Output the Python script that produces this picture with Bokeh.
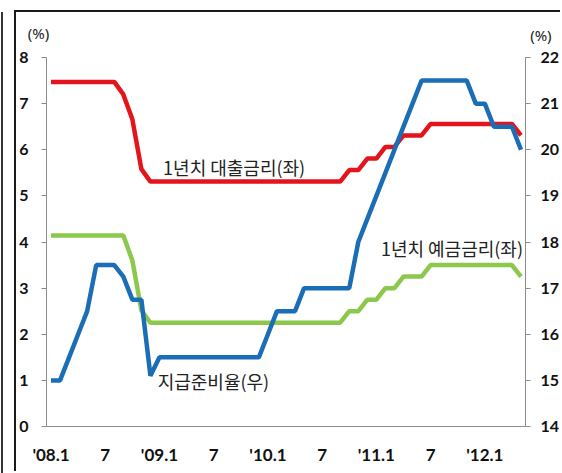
from bokeh.plotting import figure
from bokeh.models import Range1d, LinearAxis, FixedTicker, Label
from bokeh.embed import file_html
from bokeh.resources import INLINE

# Monthly data, 2008.1 - 2012.5 (53 months)
month_index = list(range(53))
tick_positions = [0, 6, 12, 18, 24, 30, 36, 42, 48]
tick_labels = ["'08.1", "7", "'09.1", "7", "'10.1", "7", "'11.1", "7", "'12.1"]

# 1-year lending rate (left axis, %)
lending = [7.47, 7.47, 7.47, 7.47, 7.47, 7.47, 7.47, 7.47, 7.20, 6.66, 5.58, 5.31,
           5.31, 5.31, 5.31, 5.31, 5.31, 5.31, 5.31, 5.31, 5.31, 5.31, 5.31, 5.31,
           5.31, 5.31, 5.31, 5.31, 5.31, 5.31, 5.31, 5.31, 5.31, 5.56, 5.56, 5.81,
           5.81, 6.06, 6.06, 6.31, 6.31, 6.31, 6.56, 6.56, 6.56, 6.56, 6.56, 6.56,
           6.56, 6.56, 6.56, 6.56, 6.31]
# 1-year deposit rate (left axis, %)
deposit = [4.14, 4.14, 4.14, 4.14, 4.14, 4.14, 4.14, 4.14, 4.14, 3.60, 2.52, 2.25,
           2.25, 2.25, 2.25, 2.25, 2.25, 2.25, 2.25, 2.25, 2.25, 2.25, 2.25, 2.25,
           2.25, 2.25, 2.25, 2.25, 2.25, 2.25, 2.25, 2.25, 2.25, 2.50, 2.50, 2.75,
           2.75, 3.00, 3.00, 3.25, 3.25, 3.25, 3.50, 3.50, 3.50, 3.50, 3.50, 3.50,
           3.50, 3.50, 3.50, 3.50, 3.25]
# Reserve requirement ratio (right axis, %)
reserve = [15.0, 15.0, 15.5, 16.0, 16.5, 17.5, 17.5, 17.5, 17.25, 16.75, 16.75, 15.1,
           15.5, 15.5, 15.5, 15.5, 15.5, 15.5, 15.5, 15.5, 15.5, 15.5, 15.5, 15.5,
           16.0, 16.5, 16.5, 16.5, 17.0, 17.0, 17.0, 17.0, 17.0, 17.0, 18.0, 18.5,
           19.0, 19.5, 20.0, 20.5, 21.0, 21.5, 21.5, 21.5, 21.5, 21.5, 21.5, 21.0,
           21.0, 20.5, 20.5, 20.5, 20.0]

RED = "#E3141B"
BLUE = "#1B6DB5"
GREEN = "#8CC84B"
AXIS = "#8C8C8C"
TICK_FONT = "Lato"
KFONT = "Noto Sans CJK KR"

p = figure(width=546, height=461, output_backend="svg", toolbar_location=None,
           x_range=Range1d(-0.5, 52.5), y_range=Range1d(0, 8),
           min_border_left=29, min_border_right=35, min_border_top=45, min_border_bottom=47)
p.styles = {"margin-top": "12px", "margin-left": "16px",
            "box-shadow": "-2px -2px 0 0 #1a1a1a, -13px 0 0 0 #ffffff, -15px 0 0 0 #333333"}
p.extra_y_ranges = {"r": Range1d(14, 22)}
p.outline_line_color = None
p.grid.visible = False
p.background_fill_color = "white"
p.border_fill_color = "white"

p.line(month_index, lending, line_color=RED, line_width=4.5)
p.line(month_index, deposit, line_color=GREEN, line_width=4.5)
p.line(month_index, reserve, line_color=BLUE, line_width=4.5, y_range_name="r")

# x axis
xa = p.xaxis[0]
xa.ticker = FixedTicker(ticks=tick_positions)
xa.major_label_overrides = {pos: lab for pos, lab in zip(tick_positions, tick_labels)}
xa.major_tick_out = 0
xa.major_tick_in = 0
xa.minor_tick_line_color = None
xa.axis_line_color = AXIS
xa.major_label_standoff = 17
xa.major_label_text_font = TICK_FONT
xa.major_label_text_font_style = "bold"
xa.major_label_text_font_size = "17px"
xa.major_label_text_color = "#111111"

# left axis
ya = p.yaxis[0]
ya.ticker = FixedTicker(ticks=[0, 1, 2, 3, 4, 5, 6, 7, 8])
ya.major_tick_out = 5
ya.major_tick_in = 0
ya.minor_tick_line_color = None
ya.axis_line_color = AXIS
ya.major_tick_line_color = AXIS
ya.major_label_standoff = 13
ya.major_label_text_font = TICK_FONT
ya.major_label_text_font_style = "bold"
ya.major_label_text_font_size = "16px"
ya.major_label_text_color = "#111111"

# right axis
ra = LinearAxis(y_range_name="r", ticker=FixedTicker(ticks=[14, 15, 16, 17, 18, 19, 20, 21, 22]))
ra.major_tick_out = 5
ra.major_tick_in = 0
ra.minor_tick_line_color = None
ra.axis_line_color = AXIS
ra.major_tick_line_color = AXIS
ra.major_label_standoff = 10
ra.major_label_text_font = TICK_FONT
ra.major_label_text_font_style = "bold"
ra.major_label_text_font_size = "16px"
ra.major_label_text_color = "#111111"
p.add_layout(ra, "right")

# unit labels (top panel; the second one sits one panel row higher, so it is lowered)
p.add_layout(Label(x=-1.38, y=25, y_units="screen", text="(%)", text_align="center",
                   text_baseline="middle", text_font="Noto Sans", text_font_size="15px",
                   text_color="#222222"), "above")
p.add_layout(Label(x=54.2, y=3, y_units="screen", text="(%)", text_align="center",
                   text_baseline="middle", text_font="Noto Sans", text_font_size="15px",
                   text_color="#222222"), "above")

# series annotations
p.add_layout(Label(x=12.4, y=5.62, text="1년치 대출금리(좌)", text_align="left",
                   text_baseline="middle", text_font=KFONT, text_font_size="18px",
                   text_color="#222222"))
p.add_layout(Label(x=36.5, y=3.87, text="1년치 예금금리(좌)", text_align="left",
                   text_baseline="middle", text_font=KFONT, text_font_size="18px",
                   text_color="#222222"))
p.add_layout(Label(x=11.8, y=0.98, text="지급준비율(우)", text_align="left",
                   text_baseline="middle", text_font=KFONT, text_font_size="18px",
                   text_color="#222222"))

open("out.html", "w").write(file_html(p, INLINE))
